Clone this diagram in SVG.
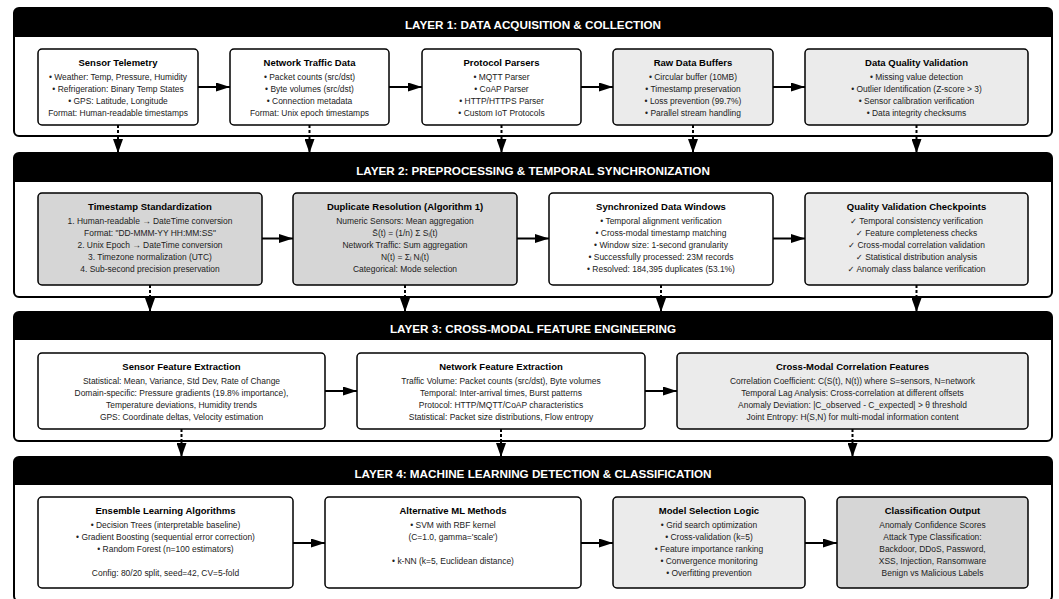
<svg xmlns="http://www.w3.org/2000/svg" width="1059" height="599" viewBox="0 0 1059 599">
<style>
.panel{fill:#fff;stroke:#000;stroke-width:2}
.hdr{fill:#000}
.htxt{font-family:"Liberation Sans","DejaVu Sans",sans-serif;font-weight:bold;font-size:11.7px;fill:#fff;text-anchor:middle}
.box{stroke:#000;stroke-width:1.5}
.w{fill:#fff}.g1{fill:#ebebeb}.g2{fill:#d6d6d6}
.t{font-family:"Liberation Sans","DejaVu Sans",sans-serif;font-weight:bold;font-size:9.5px;fill:#000;text-anchor:middle}
.b{font-family:"Liberation Sans","DejaVu Sans",sans-serif;font-size:8.45px;fill:#222;text-anchor:middle}
.ar{stroke:#000;stroke-width:2;fill:none}
.da{stroke:#000;stroke-width:2;fill:none;stroke-dasharray:3,2}
</style>
<defs>
<marker id="ah" viewBox="0 0 14 9" refX="14" refY="4.5" markerWidth="14" markerHeight="9" markerUnits="userSpaceOnUse" orient="auto"><path d="M0,0 L14,4.5 L0,9 z" fill="#000"/></marker>
<marker id="av" viewBox="0 0 14 10" refX="14" refY="5" markerWidth="14" markerHeight="10" markerUnits="userSpaceOnUse" orient="auto"><path d="M0,0 L14,5 L0,10 z" fill="#000"/></marker>
</defs>

<g id="layer1">
<rect class="panel" x="14" y="8" width="1038" height="128" rx="5"/>
<path class="hdr" d="M14,37 V13 a5,5 0 0 1 5,-5 H1047 a5,5 0 0 1 5,5 V37 Z"/>
<text class="htxt" x="533" y="29.2">LAYER 1: DATA ACQUISITION &amp; COLLECTION</text>
</g>
<g id="layer2">
<rect class="panel" x="14" y="153" width="1038" height="144" rx="5"/>
<path class="hdr" d="M14,182 V158 a5,5 0 0 1 5,-5 H1047 a5,5 0 0 1 5,5 V182 Z"/>
<text class="htxt" x="533" y="175">LAYER 2: PREPROCESSING &amp; TEMPORAL SYNCHRONIZATION</text>
</g>
<g id="layer3">
<rect class="panel" x="14" y="312" width="1038" height="129" rx="5"/>
<path class="hdr" d="M14,340 V317 a5,5 0 0 1 5,-5 H1047 a5,5 0 0 1 5,5 V340 Z"/>
<text class="htxt" x="533" y="333">LAYER 3: CROSS-MODAL FEATURE ENGINEERING</text>
</g>
<g id="layer4">
<rect class="panel" x="14" y="457" width="1038" height="144" rx="5"/>
<path class="hdr" d="M14,485 V462 a5,5 0 0 1 5,-5 H1047 a5,5 0 0 1 5,5 V485 Z"/>
<text class="htxt" x="533" y="477.5">LAYER 4: MACHINE LEARNING DETECTION &amp; CLASSIFICATION</text>
</g>

<g id="connectors">
<line class="ar" x1="198" y1="87" x2="230" y2="87" marker-end="url(#ah)"/>
<line class="ar" x1="389" y1="87" x2="422" y2="87" marker-end="url(#ah)"/>
<line class="ar" x1="581" y1="87" x2="613" y2="87" marker-end="url(#ah)"/>
<line class="ar" x1="773" y1="87" x2="805" y2="87" marker-end="url(#ah)"/>
<line class="ar" x1="262" y1="238.5" x2="293" y2="238.5" marker-end="url(#ah)"/>
<line class="ar" x1="517" y1="238.5" x2="549" y2="238.5" marker-end="url(#ah)"/>
<line class="ar" x1="773" y1="238.5" x2="805" y2="238.5" marker-end="url(#ah)"/>
<line class="ar" x1="325" y1="391" x2="357" y2="391" marker-end="url(#ah)"/>
<line class="ar" x1="645" y1="391" x2="677" y2="391" marker-end="url(#ah)"/>
<line class="ar" x1="293" y1="543" x2="325" y2="543" marker-end="url(#ah)"/>
<line class="ar" x1="581" y1="543" x2="613" y2="543" marker-end="url(#ah)"/>
<line class="ar" x1="805" y1="543" x2="837" y2="543" marker-end="url(#ah)"/>

<line class="da" x1="118" y1="125" x2="118" y2="136"/>
<line class="ar" x1="118" y1="136" x2="118" y2="153" marker-end="url(#av)"/>
<line class="da" x1="309.5" y1="125" x2="309.5" y2="136"/>
<line class="ar" x1="309.5" y1="136" x2="309.5" y2="153" marker-end="url(#av)"/>
<line class="da" x1="501.5" y1="125" x2="501.5" y2="136"/>
<line class="ar" x1="501.5" y1="136" x2="501.5" y2="153" marker-end="url(#av)"/>
<line class="da" x1="693" y1="125" x2="693" y2="136"/>
<line class="ar" x1="693" y1="136" x2="693" y2="153" marker-end="url(#av)"/>
<line class="da" x1="916.5" y1="125" x2="916.5" y2="136"/>
<line class="ar" x1="916.5" y1="136" x2="916.5" y2="153" marker-end="url(#av)"/>

<line class="da" x1="150" y1="285" x2="150" y2="297"/>
<line class="ar" x1="150" y1="297" x2="150" y2="312" marker-end="url(#av)"/>
<line class="da" x1="405" y1="285" x2="405" y2="297"/>
<line class="ar" x1="405" y1="297" x2="405" y2="312" marker-end="url(#av)"/>
<line class="da" x1="661" y1="285" x2="661" y2="297"/>
<line class="ar" x1="661" y1="297" x2="661" y2="312" marker-end="url(#av)"/>
<line class="da" x1="916.5" y1="285" x2="916.5" y2="297"/>
<line class="ar" x1="916.5" y1="297" x2="916.5" y2="312" marker-end="url(#av)"/>

<line class="da" x1="181.5" y1="429" x2="181.5" y2="441"/>
<line class="ar" x1="181.5" y1="441" x2="181.5" y2="457" marker-end="url(#av)"/>
<line class="da" x1="501" y1="429" x2="501" y2="441"/>
<line class="ar" x1="501" y1="441" x2="501" y2="457" marker-end="url(#av)"/>
<line class="da" x1="852.5" y1="429" x2="852.5" y2="441"/>
<line class="ar" x1="852.5" y1="441" x2="852.5" y2="457" marker-end="url(#av)"/>
</g>

<g id="sensor-telemetry">
<rect class="box w" x="38" y="49" width="160" height="76" rx="4"/>
<text class="t" x="118" y="66.1">Sensor Telemetry</text>
<text class="b"><tspan x="118" y="80.3">• Weather: Temp, Pressure, Humidity</tspan><tspan x="118" y="92.1">• Refrigeration: Binary Temp States</tspan><tspan x="118" y="103.9">• GPS: Latitude, Longitude</tspan><tspan x="118" y="115.7">Format: Human-readable timestamps</tspan></text>
</g>
<g id="network-traffic">
<rect class="box w" x="230" y="49" width="159" height="76" rx="4"/>
<text class="t" x="309.5" y="66.1">Network Traffic Data</text>
<text class="b"><tspan x="309.5" y="80.3">• Packet counts (src/dst)</tspan><tspan x="309.5" y="92.1">• Byte volumes (src/dst)</tspan><tspan x="309.5" y="103.9">• Connection metadata</tspan><tspan x="309.5" y="115.7">Format: Unix epoch timestamps</tspan></text>
</g>
<g id="protocol-parsers">
<rect class="box w" x="422" y="49" width="159" height="76" rx="4"/>
<text class="t" x="501.5" y="66.1">Protocol Parsers</text>
<text class="b"><tspan x="501.5" y="80.3">• MQTT Parser</tspan><tspan x="501.5" y="92.1">• CoAP Parser</tspan><tspan x="501.5" y="103.9">• HTTP/HTTPS Parser</tspan><tspan x="501.5" y="115.7">• Custom IoT Protocols</tspan></text>
</g>
<g id="raw-data-buffers">
<rect class="box g1" x="613" y="49" width="160" height="76" rx="4"/>
<text class="t" x="693" y="66.1">Raw Data Buffers</text>
<text class="b"><tspan x="693" y="80.3">• Circular buffer (10MB)</tspan><tspan x="693" y="92.1">• Timestamp preservation</tspan><tspan x="693" y="103.9">• Loss prevention (99.7%)</tspan><tspan x="693" y="115.7">• Parallel stream handling</tspan></text>
</g>
<g id="data-quality-validation">
<rect class="box g1" x="805" y="49" width="223" height="76" rx="4"/>
<text class="t" x="916.5" y="66.1">Data Quality Validation</text>
<text class="b"><tspan x="916.5" y="80.3">• Missing value detection</tspan><tspan x="916.5" y="92.1">• Outlier Identification (Z-score &gt; 3)</tspan><tspan x="916.5" y="103.9">• Sensor calibration verification</tspan><tspan x="916.5" y="115.7">• Data integrity checksums</tspan></text>
</g>

<g id="timestamp-standardization">
<rect class="box g2" x="38" y="193" width="224" height="92" rx="4"/>
<text class="t" x="150" y="210">Timestamp Standardization</text>
<text class="b"><tspan x="150" y="224.3">1. Human-readable → DateTime conversion</tspan><tspan x="150" y="236.1">Format: "DD-MMM-YY HH:MM:SS"</tspan><tspan x="150" y="247.9">2. Unix Epoch → DateTime conversion</tspan><tspan x="150" y="259.7">3. Timezone normalization (UTC)</tspan><tspan x="150" y="271.5">4. Sub-second precision preservation</tspan></text>
</g>
<g id="duplicate-resolution">
<rect class="box g2" x="293" y="193" width="224" height="92" rx="4"/>
<text class="t" x="405" y="210">Duplicate Resolution (Algorithm 1)</text>
<text class="b"><tspan x="405" y="224.3">Numeric Sensors: Mean aggregation</tspan><tspan x="405" y="236.1">S̄(t) = (1/n) Σ Sᵢ(t)</tspan><tspan x="405" y="247.9">Network Traffic: Sum aggregation</tspan><tspan x="405" y="259.7">N(t) = Σᵢ Nᵢ(t)</tspan><tspan x="405" y="271.5">Categorical: Mode selection</tspan></text>
</g>
<g id="synchronized-windows">
<rect class="box w" x="549" y="193" width="224" height="92" rx="4"/>
<text class="t" x="661" y="210">Synchronized Data Windows</text>
<text class="b"><tspan x="661" y="224.3">• Temporal alignment verification</tspan><tspan x="661" y="236.1">• Cross-modal timestamp matching</tspan><tspan x="661" y="247.9">• Window size: 1-second granularity</tspan><tspan x="661" y="259.7">• Successfully processed: 23M records</tspan><tspan x="661" y="271.5">• Resolved: 184,395 duplicates (53.1%)</tspan></text>
</g>
<g id="quality-checkpoints">
<rect class="box g1" x="805" y="193" width="223" height="92" rx="4"/>
<text class="t" x="916.5" y="210">Quality Validation Checkpoints</text>
<text class="b"><tspan x="916.5" y="224.3">✓ Temporal consistency verification</tspan><tspan x="916.5" y="236.1">✓ Feature completeness checks</tspan><tspan x="916.5" y="247.9">✓ Cross-modal correlation validation</tspan><tspan x="916.5" y="259.7">✓ Statistical distribution analysis</tspan><tspan x="916.5" y="271.5">✓ Anomaly class balance verification</tspan></text>
</g>

<g id="sensor-features">
<rect class="box w" x="38" y="353" width="287" height="76" rx="4"/>
<text class="t" x="181.5" y="370">Sensor Feature Extraction</text>
<text class="b"><tspan x="181.5" y="384.3">Statistical: Mean, Variance, Std Dev, Rate of Change</tspan><tspan x="181.5" y="396.1">Domain-specific: Pressure gradients (19.8% importance),</tspan><tspan x="181.5" y="407.9">Temperature deviations, Humidity trends</tspan><tspan x="181.5" y="419.7">GPS: Coordinate deltas, Velocity estimation</tspan></text>
</g>
<g id="network-features">
<rect class="box w" x="357" y="353" width="288" height="76" rx="4"/>
<text class="t" x="501" y="370">Network Feature Extraction</text>
<text class="b"><tspan x="501" y="384.3">Traffic Volume: Packet counts (src/dst), Byte volumes</tspan><tspan x="501" y="396.1">Temporal: Inter-arrival times, Burst patterns</tspan><tspan x="501" y="407.9">Protocol: HTTP/MQTT/CoAP characteristics</tspan><tspan x="501" y="419.7">Statistical: Packet size distributions, Flow entropy</tspan></text>
</g>
<g id="cross-modal-features">
<rect class="box g1" x="677" y="353" width="351" height="76" rx="4"/>
<text class="t" x="852.5" y="370">Cross-Modal Correlation Features</text>
<text class="b"><tspan x="852.5" y="384.3">Correlation Coefficient: C(S(t), N(t)) where S=sensors, N=network</tspan><tspan x="852.5" y="396.1">Temporal Lag Analysis: Cross-correlation at different offsets</tspan><tspan x="852.5" y="407.9">Anomaly Deviation: |C_observed - C_expected| &gt; θ threshold</tspan><tspan x="852.5" y="419.7">Joint Entropy: H(S,N) for multi-modal information content</tspan></text>
</g>

<g id="ensemble-learning">
<rect class="box w" x="38" y="497" width="255" height="91" rx="4"/>
<text class="t" x="165.5" y="514">Ensemble Learning Algorithms</text>
<text class="b"><tspan x="165.5" y="528.3">• Decision Trees (interpretable baseline)</tspan><tspan x="165.5" y="540.1">• Gradient Boosting (sequential error correction)</tspan><tspan x="165.5" y="551.9">• Random Forest (n=100 estimators)</tspan><tspan x="165.5" y="575.5">Config: 80/20 split, seed=42, CV=5-fold</tspan></text>
</g>
<g id="alternative-ml">
<rect class="box w" x="325" y="497" width="256" height="91" rx="4"/>
<text class="t" x="453" y="514">Alternative ML Methods</text>
<text class="b"><tspan x="453" y="528.3">• SVM with RBF kernel</tspan><tspan x="453" y="540.1">(C=1.0, gamma='scale')</tspan><tspan x="453" y="563.7">• k-NN (k=5, Euclidean distance)</tspan></text>
</g>
<g id="model-selection">
<rect class="box g1" x="613" y="497" width="192" height="91" rx="4"/>
<text class="t" x="709" y="514">Model Selection Logic</text>
<text class="b"><tspan x="709" y="528.3">• Grid search optimization</tspan><tspan x="709" y="540.1">• Cross-validation (k=5)</tspan><tspan x="709" y="551.9">• Feature importance ranking</tspan><tspan x="709" y="563.7">• Convergence monitoring</tspan><tspan x="709" y="575.5">• Overfitting prevention</tspan></text>
</g>
<g id="classification-output">
<rect class="box g2" x="837" y="497" width="191" height="91" rx="4"/>
<text class="t" x="932.5" y="514">Classification Output</text>
<text class="b"><tspan x="932.5" y="528.3">Anomaly Confidence Scores</tspan><tspan x="932.5" y="540.1">Attack Type Classification:</tspan><tspan x="932.5" y="551.9">Backdoor, DDoS, Password,</tspan><tspan x="932.5" y="563.7">XSS, Injection, Ransomware</tspan><tspan x="932.5" y="575.5">Benign vs Malicious Labels</tspan></text>
</g>
</svg>
